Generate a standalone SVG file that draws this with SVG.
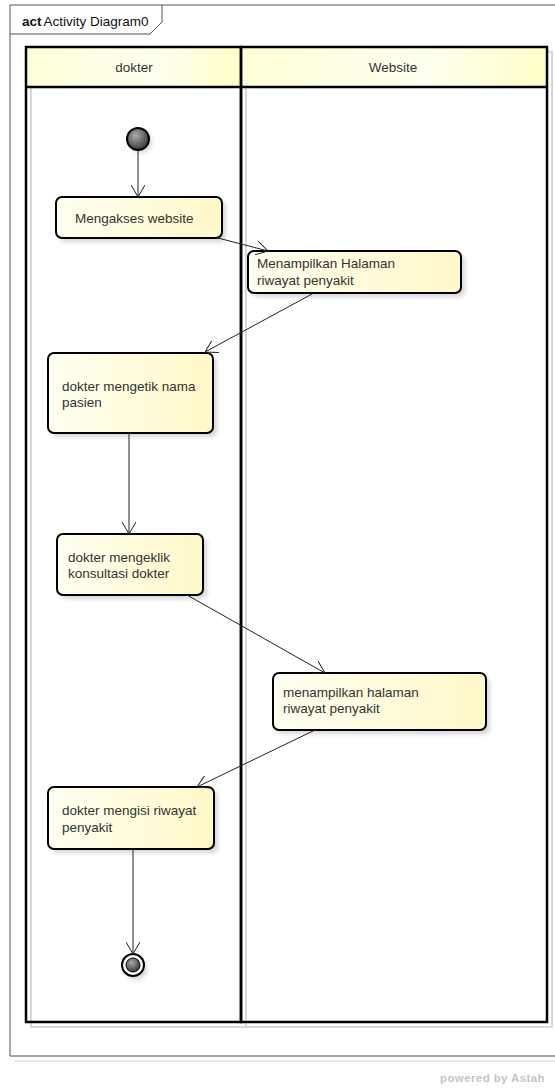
<svg xmlns="http://www.w3.org/2000/svg" width="555" height="1088" viewBox="0 0 555 1088">
<defs>
<linearGradient id="nodeFill" x1="0" y1="0" x2="1" y2="0">
<stop offset="0" stop-color="#FFFFF2"/>
<stop offset="1" stop-color="#FFF8C8"/>
</linearGradient>
<linearGradient id="headFill" x1="0" y1="0" x2="1" y2="0">
<stop offset="0" stop-color="#FFFFD8"/>
<stop offset="0.6" stop-color="#FFFFF0"/>
<stop offset="1" stop-color="#FFFFC8"/>
</linearGradient>
<radialGradient id="ballFill" cx="0.4" cy="0.35" r="0.7">
<stop offset="0" stop-color="#AAAAAA"/>
<stop offset="1" stop-color="#333333"/>
</radialGradient>
<filter id="blur" x="-20%" y="-20%" width="140%" height="140%">
<feGaussianBlur stdDeviation="2"/>
</filter>
<marker id="arrow" viewBox="0 0 12 14" refX="12" refY="7" markerWidth="12" markerHeight="14" markerUnits="userSpaceOnUse" orient="auto">
<path d="M0,0 L12,7 L0,14" fill="none" stroke="#222" stroke-width="1"/>
</marker>
</defs>
<style>
.shadow{fill:#CCCCCC;filter:url(#blur);opacity:0.8}
.node{fill:url(#nodeFill);stroke:#000;stroke-width:2}
.txt{font-family:"Liberation Sans",Arial,sans-serif;font-size:13.5px;fill:#333}
.lane{fill:none;stroke:#000;stroke-width:2.5}
.lshadow{fill:none;stroke:#D8D8D8;stroke-width:2}
.edge{fill:none;stroke:#222;stroke-width:1;marker-end:url(#arrow)}
</style>
<rect width="555" height="1088" fill="#FFFFFF"/>

<g id="frame">
<path d="M14,1061 L555,1061" stroke="#E8E8E8" stroke-width="2" fill="none"/>
<path d="M10,1056 L10,5 L555,5" stroke="#555" stroke-width="1" fill="none"/>
<path d="M10,1056 L555,1056" stroke="#888" stroke-width="1.5" fill="none"/>
<path d="M10,34 L150,34 L162,22 L162,5" stroke="#555" stroke-width="1" fill="none"/>
<text x="22" y="26" font-family="Liberation Sans, Arial, sans-serif" font-size="13.5" fill="#111"><tspan font-weight="bold">act</tspan><tspan dx="2">Activity Diagram0</tspan></text>
</g>

<g id="swimlanes">
<rect x="31" y="52" width="215" height="975" class="lshadow"/>
<rect x="246" y="52" width="306" height="975" class="lshadow"/>
<rect x="26" y="47" width="215" height="40" fill="url(#headFill)"/>
<rect x="241" y="47" width="306" height="40" fill="url(#headFill)"/>
<rect x="26" y="47" width="215" height="975" class="lane"/>
<rect x="241" y="47" width="306" height="975" class="lane"/>
<line x1="26" y1="87" x2="547" y2="87" stroke="#000" stroke-width="2.5"/>
<text x="134" y="72" class="txt" text-anchor="middle">dokter</text>
<text x="393" y="72" class="txt" text-anchor="middle">Website</text>
</g>

<g id="start">
<circle cx="141" cy="142" r="11" class="shadow"/>
<circle cx="138" cy="139" r="11" fill="url(#ballFill)" stroke="#000" stroke-width="2"/>
</g>

<g id="n1">
<rect x="60" y="201" width="166" height="41" rx="6" class="shadow"/>
<rect x="56" y="197" width="166" height="41" rx="6" class="node"/>
<text x="75" y="223" class="txt">Mengakses website</text>
</g>

<g id="n2">
<rect x="252" y="255" width="213" height="42" rx="6" class="shadow"/>
<rect x="248" y="251" width="213" height="42" rx="6" class="node"/>
<text x="257" y="268" class="txt">Menampilkan Halaman</text>
<text x="257" y="285" class="txt">riwayat penyakit</text>
</g>

<g id="n3">
<rect x="52" y="357" width="165" height="80" rx="6" class="shadow"/>
<rect x="48" y="353" width="165" height="80" rx="6" class="node"/>
<text x="62" y="391" class="txt">dokter mengetik nama</text>
<text x="62" y="407" class="txt">pasien</text>
</g>

<g id="n4">
<rect x="61" y="538" width="146" height="61" rx="6" class="shadow"/>
<rect x="57" y="534" width="146" height="61" rx="6" class="node"/>
<text x="68" y="562" class="txt">dokter mengeklik</text>
<text x="68" y="578" class="txt">konsultasi dokter</text>
</g>

<g id="n5">
<rect x="277" y="677" width="213" height="57" rx="6" class="shadow"/>
<rect x="273" y="673" width="213" height="57" rx="6" class="node"/>
<text x="283" y="697" class="txt">menampilkan halaman</text>
<text x="283" y="713" class="txt">riwayat penyakit</text>
</g>

<g id="n6">
<rect x="52" y="791" width="166" height="62" rx="6" class="shadow"/>
<rect x="48" y="787" width="166" height="62" rx="6" class="node"/>
<text x="62" y="815" class="txt">dokter mengisi riwayat</text>
<text x="62" y="832" class="txt">penyakit</text>
</g>

<g id="end">
<circle cx="136" cy="969" r="11" class="shadow"/>
<circle cx="133" cy="965" r="11" fill="#FFFFFF" stroke="#000" stroke-width="2"/>
<circle cx="133" cy="965" r="7" fill="url(#ballFill)" stroke="#000" stroke-width="1"/>
</g>

<g id="connectors">
<line x1="138" y1="151" x2="138" y2="197" class="edge"/>
<line x1="218" y1="238" x2="268" y2="251" class="edge"/>
<line x1="312" y1="294" x2="205" y2="352" class="edge"/>
<line x1="129" y1="433" x2="129" y2="534" class="edge"/>
<line x1="187" y1="595" x2="325" y2="673" class="edge"/>
<line x1="315" y1="730" x2="197" y2="787" class="edge"/>
<line x1="133" y1="849" x2="133" y2="954" class="edge"/>
</g>

<text x="440" y="1082" font-family="Liberation Sans, Arial, sans-serif" font-size="11.5" font-weight="bold" fill="#C4C4C4" letter-spacing="0.4">powered by Astah</text>
</svg>
